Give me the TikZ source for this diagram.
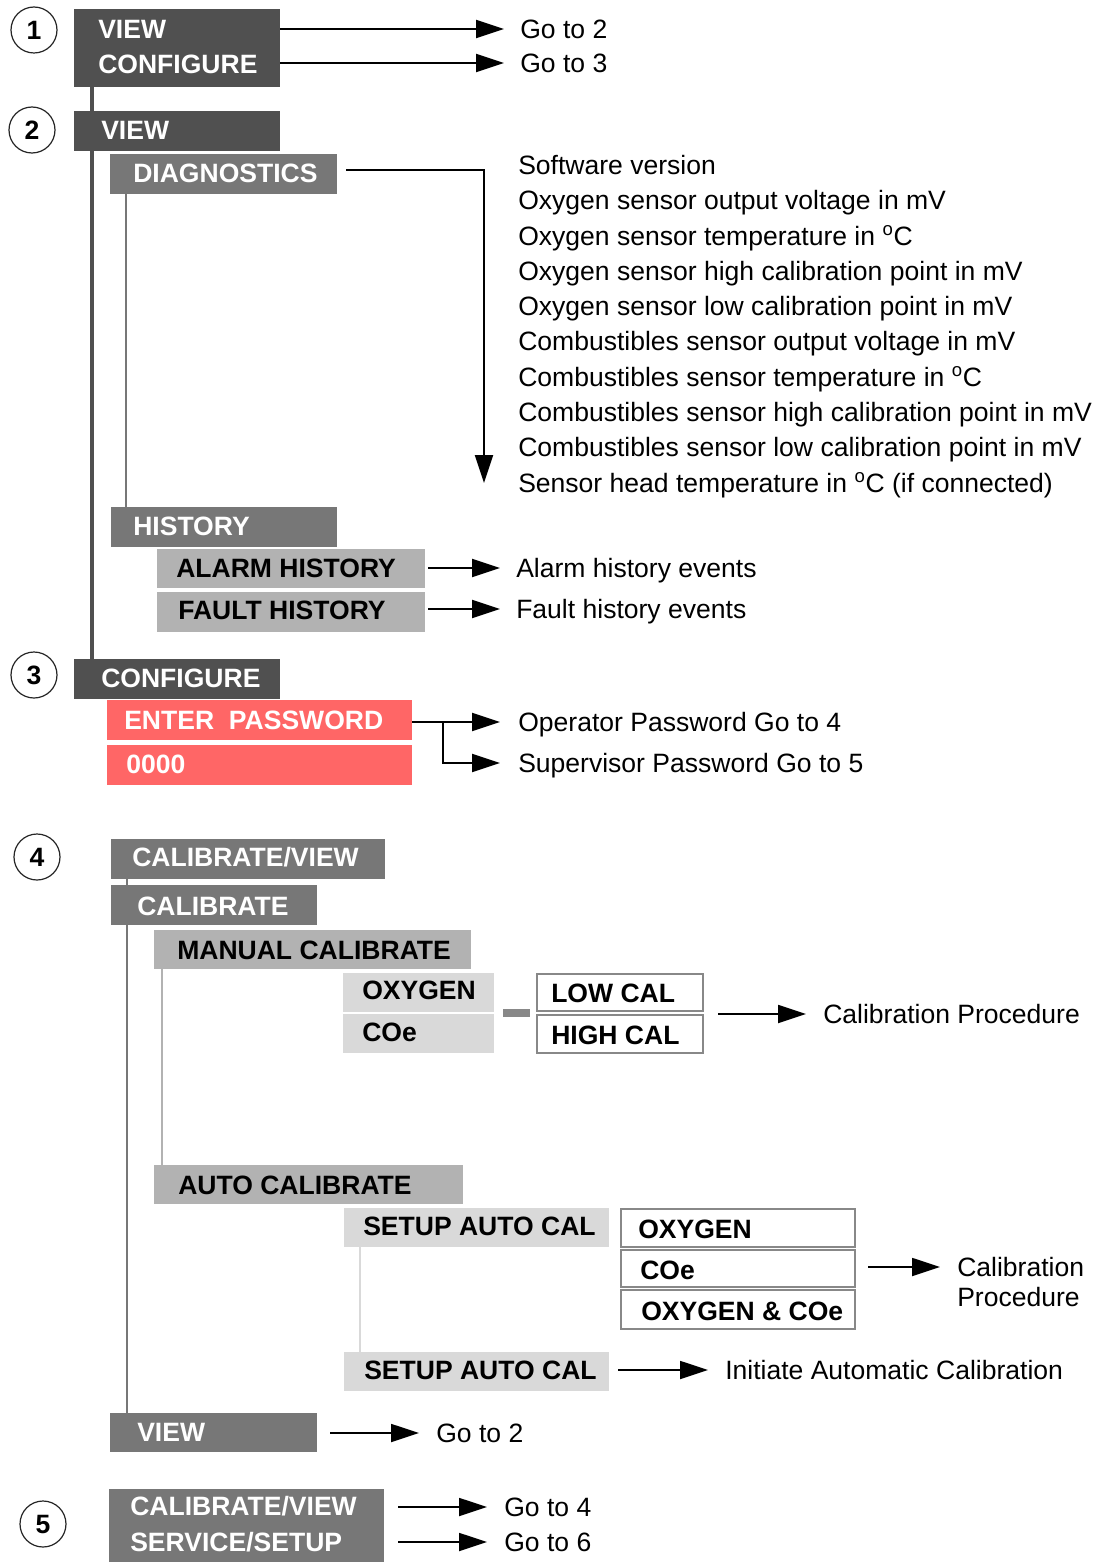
\documentclass[tikz,border=0pt]{standalone}
\usepackage{fontspec}
\setmainfont{Liberation Sans}
\usetikzlibrary{arrows.meta,calc}

\definecolor{menudark}{HTML}{505050}
\definecolor{menumid}{HTML}{777777}
\definecolor{menulight}{HTML}{B2B2B2}
\definecolor{menupale}{HTML}{D9D9D9}
\definecolor{menured}{HTML}{FF6666}
\definecolor{menuedge}{HTML}{888888}

% box: name, style, x1, y1, x2, y2 (pixel grid, y downwards)
\newcommand\menubox[6]{%
  \node[#2,anchor=north west,inner sep=0pt,outer sep=0pt,
        minimum width={(#5-#3)*0.75pt},minimum height={(#6-#4)*0.75pt}]
        (#1) at ({#3},{#4}) {};}
% text: name, style, x, y (centre of capitals), text
\newcommand\menutext[5]{%
  \node[#2,anchor=west,inner sep=0pt,text height=14.2pt,text depth=0pt]
        (#1) at ({#3},{#4}) {#5};}

\tikzset{
  every node/.style={font=\fontsize{19.9}{24}\selectfont},
  darkbox/.style={fill=menudark},
  midbox/.style={fill=menumid},
  lightbox/.style={fill=menulight},
  palebox/.style={fill=menupale},
  redbox/.style={fill=menured},
  framebox/.style={fill=white,draw=menuedge,line width=1.5pt,inner sep=0pt},
  wlabel/.style={text=white,font=\fontsize{19.9}{24}\selectfont\bfseries},
  blabel/.style={text=black,font=\fontsize{19.9}{24}\selectfont\bfseries},
  plain/.style={text=black},
  stepnum/.style={circle,draw=black!85,line width=0.9pt,minimum size=34.5pt,
    inner sep=0pt,font=\fontsize{19.9}{24}\selectfont\bfseries},
  arr/.style={line width=1.4pt,-{Triangle[length=21pt,width=13.5pt]}},
  darkline/.style={draw=menudark,line width=2.4pt},
  midline/.style={draw=menumid,line width=2.2pt},
  lightline/.style={draw=menulight,line width=2pt},
  paleline/.style={draw=menupale,line width=2pt},
}

\begin{document}
\begin{tikzpicture}[x=0.75pt,y=-0.75pt]
\useasboundingbox[fill=white] (0,0) rectangle (1100,1562);

% ---------- 1 ----------
\node[stepnum] (c1) at (34,30) {1};
\menubox{b1}{darkbox}{74}{9}{280}{87}
\menutext{b1v}{wlabel}{98}{29}{VIEW}
\menutext{b1c}{wlabel}{98}{64}{CONFIGURE}
\menutext{g12}{plain}{520}{29}{Go to 2}
\menutext{g13}{plain}{520}{63}{Go to 3}

% ---------- 2 ----------
\node[stepnum] (c2) at (32,130) {2};
\menubox{b3}{darkbox}{74}{659}{280}{699}
\path[darkline] ($(b1.south west)+(18,0)$) -- ($(b1.south west |- b3.north)+(18,0)$);
\draw[arr] (b1.east |- g12.west) -- ($(g12.west)+(-16,0)$);
\draw[arr] (b1.east |- g13.west) -- ($(g13.west)+(-16,0)$);

\menubox{b2}{darkbox}{74}{111}{280}{151}
\menutext{b2v}{wlabel}{101}{130}{VIEW}
\menubox{diag}{midbox}{110}{154}{337}{194}
\menutext{diagt}{wlabel}{133}{173}{DIAGNOSTICS}
\menubox{hist}{midbox}{111}{507}{337}{547}
\menutext{histt}{wlabel}{133}{526}{HISTORY}
\path[midline] ($(diag.south west)+(16,0)$) -- ($(diag.south west |- hist.north)+(16,0)$);

\foreach \i/\t in {1/Software version,
  2/Oxygen sensor output voltage in mV,
  3/Oxygen sensor temperature in \textsuperscript{o}C,
  4/Oxygen sensor high calibration point in mV,
  5/Oxygen sensor low calibration point in mV,
  6/Combustibles sensor output voltage in mV,
  7/Combustibles sensor temperature in \textsuperscript{o}C,
  8/Combustibles sensor high calibration point in mV,
  9/Combustibles sensor low calibration point in mV,
  10/Sensor head temperature in \textsuperscript{o}C (if connected)}
  {\menutext{d\i}{plain}{518}{165+(\i-1)*35.3}{\t}}
\coordinate (dtip) at (484,483);
\draw[arr] ($(diag.east)+(9,-4)$) -| (dtip);

\menubox{alarm}{lightbox}{157}{549}{425}{588}
\menutext{alarmt}{blabel}{176}{568}{ALARM HISTORY}
\menubox{fault}{lightbox}{157}{592}{425}{632}
\menutext{faultt}{blabel}{178}{610}{FAULT HISTORY}
\menutext{ah}{plain}{516}{568}{Alarm history events}
\menutext{fh}{plain}{516}{609}{Fault history events}
\draw[arr] ($(alarm.east |- ah.west)+(3,0)$) -- ($(ah.west)+(-16,0)$);
\draw[arr] ($(fault.east |- fh.west)+(3,0)$) -- ($(fh.west)+(-16,0)$);

% ---------- 3 ----------
\node[stepnum] (c3) at (34,675) {3};
\menutext{b3c}{wlabel}{101}{678}{CONFIGURE}
\menubox{pw}{redbox}{107}{700}{412}{740}
\menutext{pwt}{wlabel}{124}{720}{ENTER\ \ PASSWORD}
\menubox{zero}{redbox}{107}{745}{412}{785}
\menutext{zerot}{wlabel}{126}{764}{0000}
\menutext{op}{plain}{518}{722}{Operator Password Go to 4}
\menutext{sp}{plain}{518}{763}{Supervisor Password Go to 5}
\coordinate (pwfork) at (443,722);
\draw[arr] (pw.east |- op.west) -- ($(op.west)+(-18,0)$);
\draw[arr] (pwfork) |- ($(sp.west)+(-18,0)$);

% ---------- 4 ----------
\node[stepnum] (c4) at (37,857) {4};
\menubox{cv}{midbox}{111}{839}{385}{879}
\menubox{view4}{midbox}{110}{1413}{317}{1452}
\path[midline] ($(cv.south west)+(16,0)$) -- ($(cv.south west |- view4.north)+(16,0)$);
\menutext{cvt}{wlabel}{132}{857}{CALIBRATE/VIEW}
\menubox{cal}{midbox}{111}{885}{317}{925}
\menutext{calt}{wlabel}{137}{906}{CALIBRATE}

\menubox{man}{lightbox}{154}{930}{471}{969}
\menutext{mant}{blabel}{177}{950}{MANUAL CALIBRATE}
\menubox{auto}{lightbox}{154}{1165}{463}{1204}
\menutext{autot}{blabel}{178}{1185}{AUTO CALIBRATE}
\path[lightline] ($(man.south west)+(8,0)$) -- ($(man.south west |- auto.north)+(8,0)$);

\menubox{oxy}{palebox}{343}{973}{494}{1012}
\menutext{oxyt}{blabel}{362}{990}{OXYGEN}
\menubox{coe}{palebox}{343}{1014}{494}{1053}
\menutext{coet}{blabel}{362}{1032}{COe}
\menubox{dash}{fill=menuedge}{503}{1009}{530}{1017}
\menubox{low}{framebox}{537}{974}{703}{1011}
\menutext{lowt}{blabel}{551}{993}{LOW CAL}
\menubox{high}{framebox}{537}{1015}{703}{1053}
\menutext{hight}{blabel}{551}{1035}{HIGH CAL}
\menutext{cp1}{plain}{823}{1014}{Calibration Procedure}
\draw[arr] ($(high.east |- cp1.west)+(15,0)$) -- ($(cp1.west)+(-17,0)$);

\menubox{sac1}{palebox}{344}{1208}{609}{1247}
\menutext{sac1t}{blabel}{363}{1226}{SETUP AUTO CAL}
\menubox{sac2}{palebox}{344}{1352}{609}{1391}
\menutext{sac2t}{blabel}{364}{1370}{SETUP AUTO CAL}
\path[paleline] ($(sac1.south west)+(16,0)$) -- ($(sac1.south west |- sac2.north)+(16,0)$);

\menubox{ao1}{framebox}{621}{1209}{855}{1247}
\menutext{ao1t}{blabel}{638}{1229}{OXYGEN}
\menubox{ao2}{framebox}{621}{1250}{855}{1287}
\menutext{ao2t}{blabel}{640}{1270}{COe}
\menubox{ao3}{framebox}{621}{1290}{855}{1329}
\menutext{ao3t}{blabel}{641}{1311}{OXYGEN \& COe}
\menutext{cp2a}{plain}{957}{1267}{Calibration}
\menutext{cp2b}{plain}{957}{1297}{Procedure}
\draw[arr] ($(ao2.east |- cp2a.west)+(13,0)$) -- ($(cp2a.west)+(-17,0)$);

\menutext{init}{plain}{725}{1370}{Initiate Automatic Calibration}
\draw[arr] ($(sac2.east |- init.west)+(9,0)$) -- ($(init.west)+(-17,0)$);

\menutext{view4t}{wlabel}{137}{1432}{VIEW}
\menutext{g42}{plain}{436}{1433}{Go to 2}
\draw[arr] ($(view4.east |- g42.west)+(13,0)$) -- ($(g42.west)+(-17,0)$);

% ---------- 5 ----------
\node[stepnum] (c5) at (43,1524) {5};
\menubox{b5}{midbox}{109}{1489}{384}{1562}
\menutext{b5a}{wlabel}{130}{1506}{CALIBRATE/VIEW}
\menutext{b5b}{wlabel}{130}{1542}{SERVICE/SETUP}
\menutext{g54}{plain}{504}{1507}{Go to 4}
\menutext{g56}{plain}{504}{1542}{Go to 6}
\draw[arr] ($(b5.east |- g54.west)+(14,0)$) -- ($(g54.west)+(-17,0)$);
\draw[arr] ($(b5.east |- g56.west)+(14,0)$) -- ($(g56.west)+(-17,0)$);
\end{tikzpicture}
\end{document}
